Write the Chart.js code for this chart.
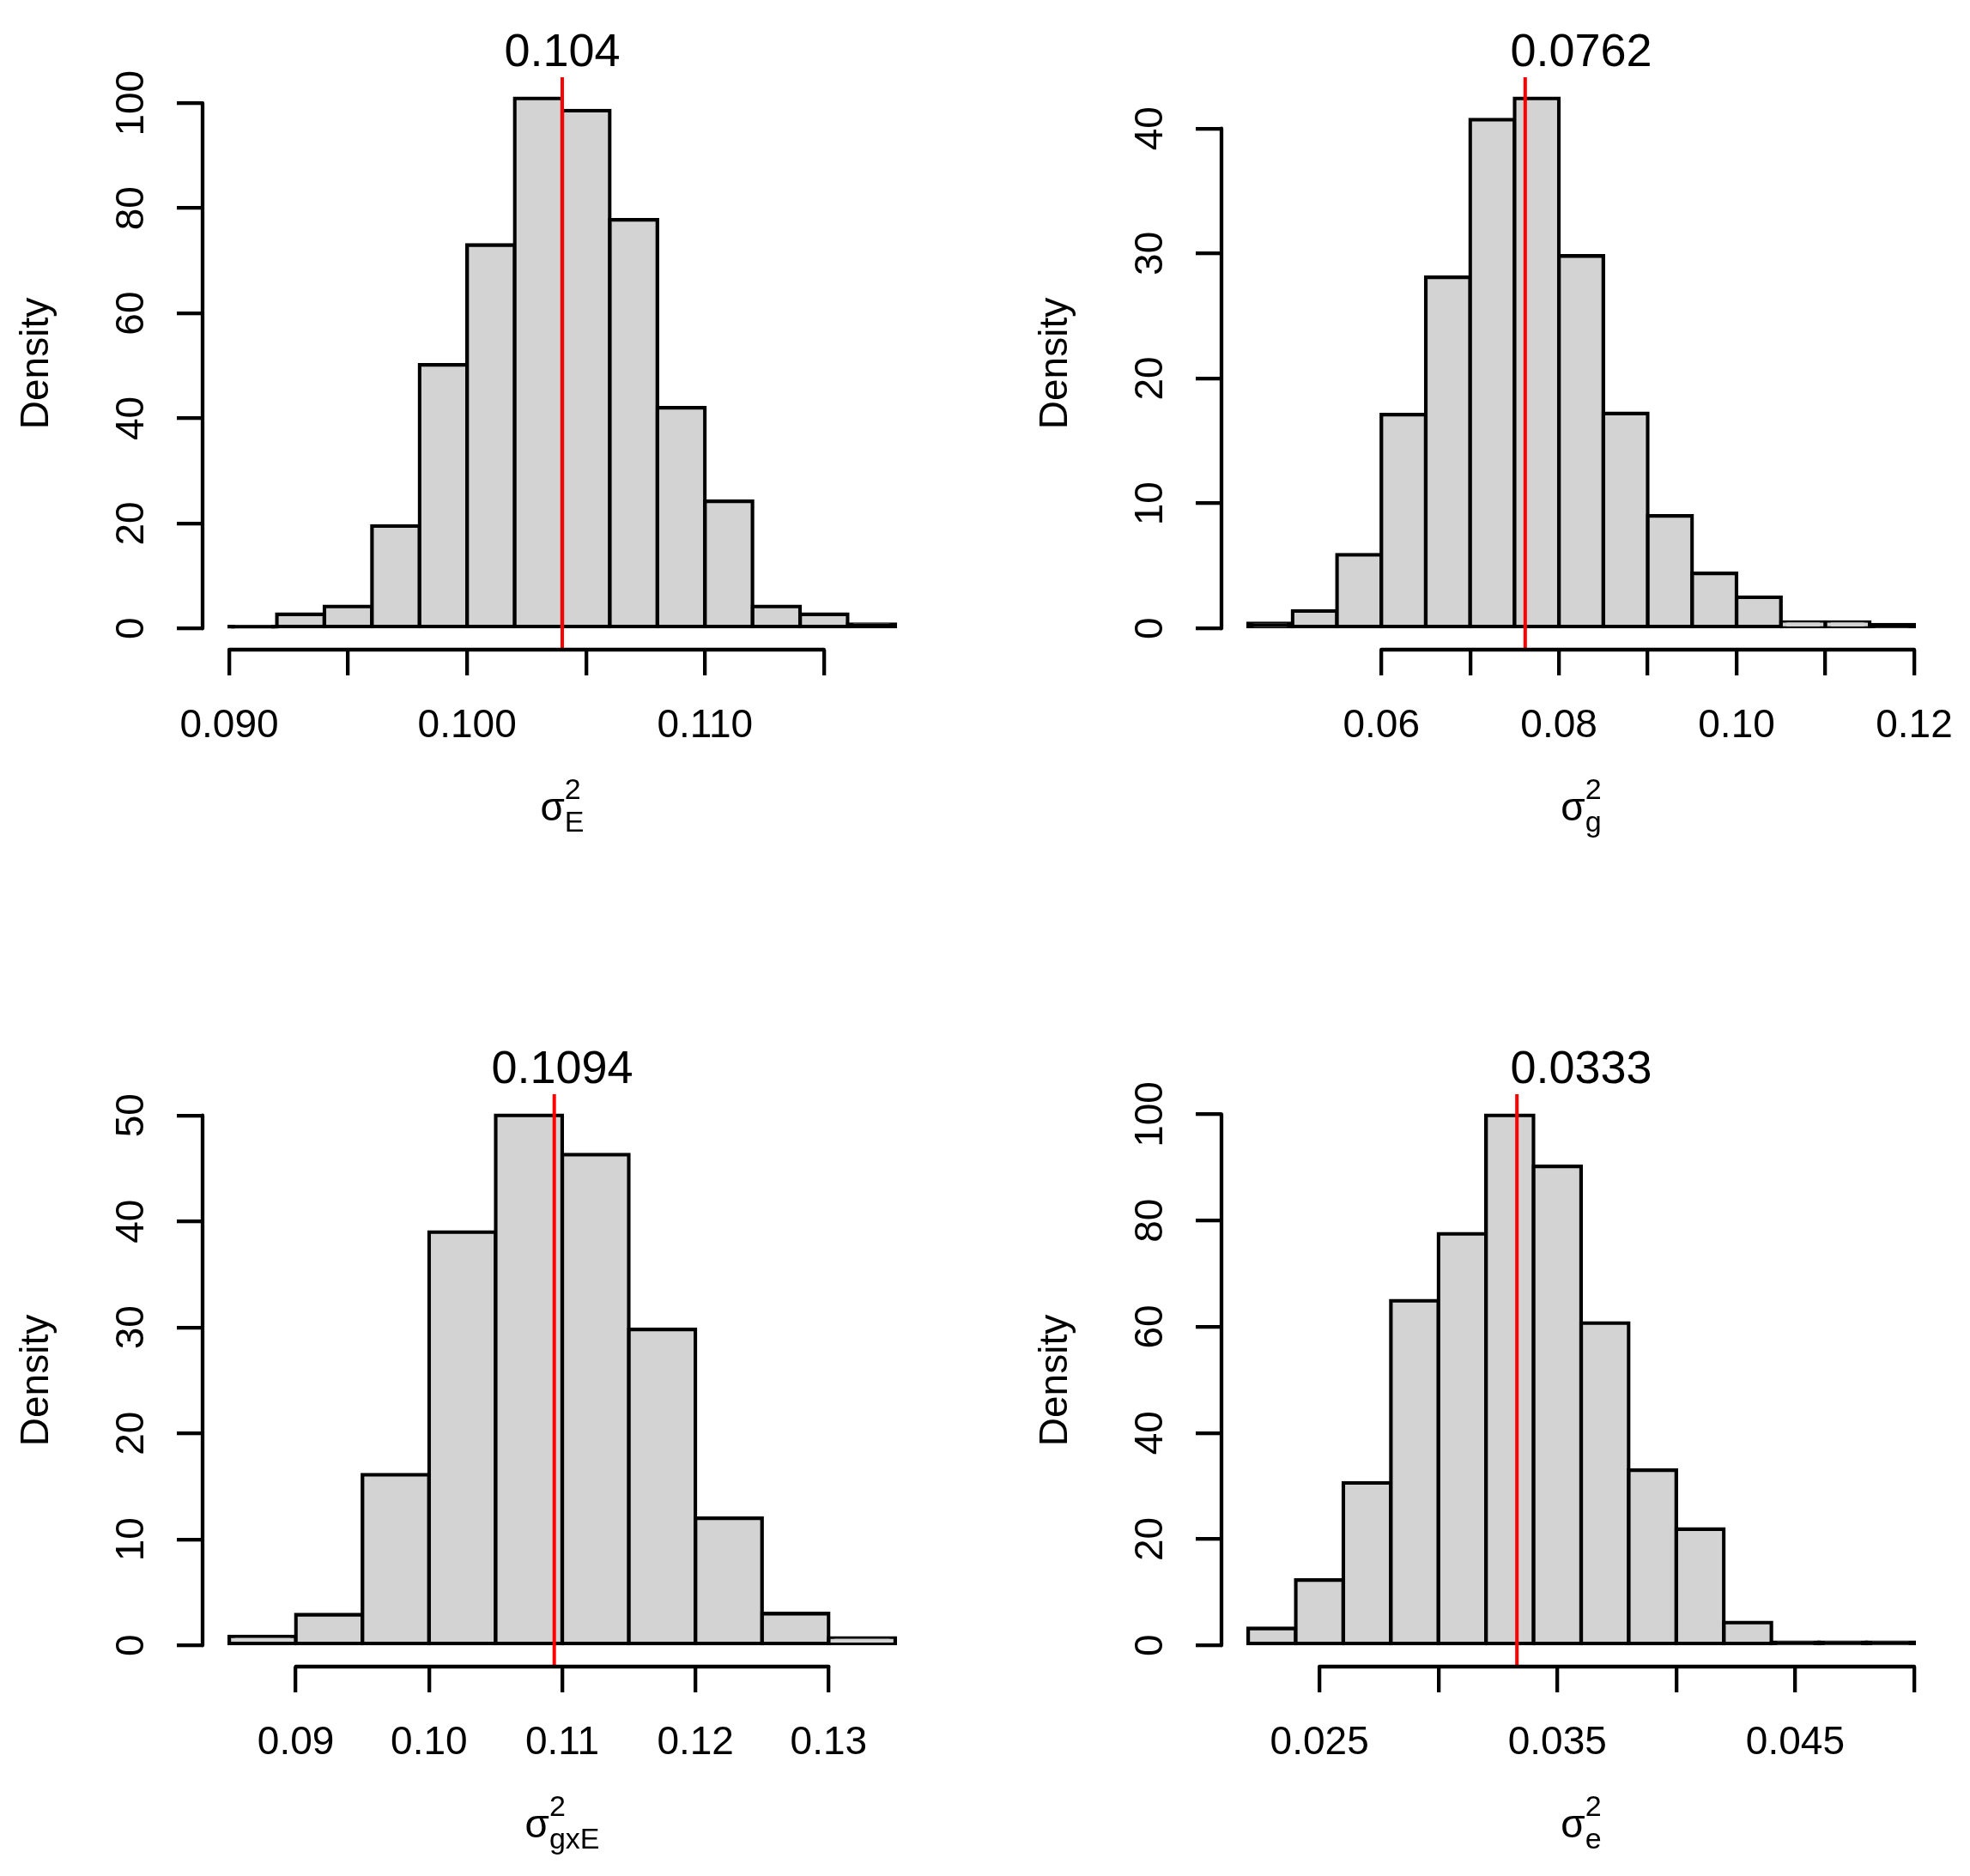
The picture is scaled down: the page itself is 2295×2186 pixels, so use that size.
<!DOCTYPE html>
<html>
<head>
<meta charset="utf-8">
<script src="https://cdn.jsdelivr.net/npm/chart.js@4.4.1/dist/chart.umd.min.js"></script>
<style>
  html, body { margin: 0; background: #fff; }
  #wrap { position: relative; width: 2295px; height: 2186px; background: #fff; overflow: hidden; }
  canvas { position: absolute; }
</style>
</head>
<body>
<div id="wrap">
  <canvas id="cE" width="1108" height="1000" style="left:0px;top:0px"></canvas>
  <canvas id="cG" width="1108" height="1000" style="left:1187px;top:0px"></canvas>
  <canvas id="cGxE" width="1108" height="1000" style="left:0px;top:1185px"></canvas>
  <canvas id="cRes" width="1108" height="1000" style="left:1187px;top:1185px"></canvas>
</div>
<script>
// Panel 1: sigma^2_E
const breaksE = [0.090, 0.092, 0.094, 0.096, 0.098, 0.100, 0.102, 0.104, 0.106, 0.108, 0.110, 0.112, 0.114, 0.116, 0.118];
const densE = [0.3, 2.7, 4.2, 19.5, 50.2, 73.0, 100.9, 98.6, 77.8, 42.0, 24.2, 4.2, 2.7, 0.8];
const xTicksE = [0.090, 0.095, 0.100, 0.105, 0.110, 0.115];
const xLabelsE = ['0.090', '', '0.100', '', '0.110', ''];
const yTicksE = [0, 20, 40, 60, 80, 100];
const meanE = 0.104;

// Panel 2: sigma^2_g
const breaksG = [0.045, 0.050, 0.055, 0.060, 0.065, 0.070, 0.075, 0.080, 0.085, 0.090, 0.095, 0.100, 0.105, 0.110, 0.115, 0.120];
const densG = [0.4, 1.4, 5.9, 17.1, 28.1, 40.7, 42.4, 29.8, 17.2, 9.0, 4.4, 2.5, 0.5, 0.5, 0.3];
const xTicksG = [0.06, 0.07, 0.08, 0.09, 0.10, 0.11, 0.12];
const xLabelsG = ['0.06', '', '0.08', '', '0.10', '', '0.12'];
const yTicksG = [0, 10, 20, 30, 40];
const meanG = 0.0762;

// Panel 3: sigma^2_gxE
const breaksGxE = [0.085, 0.090, 0.095, 0.100, 0.105, 0.110, 0.115, 0.120, 0.125, 0.130, 0.135];
const densGxE = [0.85, 2.9, 16.1, 39.0, 50.0, 46.3, 29.8, 12.0, 3.0, 0.7];
const xTicksGxE = [0.09, 0.10, 0.11, 0.12, 0.13];
const xLabelsGxE = ['0.09', '0.10', '0.11', '0.12', '0.13'];
const yTicksGxE = [0, 10, 20, 30, 40, 50];
const meanGxE = 0.1094;

// Panel 4: sigma^2_e
const breaksRes = [0.022, 0.024, 0.026, 0.028, 0.030, 0.032, 0.034, 0.036, 0.038, 0.040, 0.042, 0.044, 0.046, 0.048, 0.050];
const densRes = [3.2, 12.3, 30.6, 64.9, 77.5, 99.8, 90.2, 60.7, 33.0, 21.9, 4.3, 0.6, 0.6, 0.6];
const xTicksRes = [0.025, 0.030, 0.035, 0.040, 0.045, 0.050];
const xLabelsRes = ['0.025', '', '0.035', '', '0.045', ''];
const yTicksRes = [0, 20, 40, 60, 80, 100];
const meanRes = 0.0333;

const FONT = "'Liberation Sans', Arial, Helvetica, sans-serif";
const LW = 4.3;

// ejes estilo R, etiquetas rotadas y etiqueta sigma con indices
const rAxis = {
  id: 'rAxis',
  afterDraw(chart, args, opts) {
    const { ctx, chartArea } = chart;
    const x = chart.scales.x, y = chart.scales.y;
    ctx.save();
    ctx.strokeStyle = '#000';
    ctx.lineWidth = LW;
    ctx.lineCap = 'round';

    // lineas de eje entre el primer y ultimo tick
    ctx.beginPath();
    ctx.moveTo(x.getPixelForValue(opts.xTicks[0]), chartArea.bottom);
    ctx.lineTo(x.getPixelForValue(opts.xTicks[opts.xTicks.length - 1]), chartArea.bottom);
    ctx.moveTo(chartArea.left, y.getPixelForValue(opts.yTicks[0]));
    ctx.lineTo(chartArea.left, y.getPixelForValue(opts.yTicks[opts.yTicks.length - 1]));
    ctx.stroke();

    // etiquetas del eje y, paralelas al eje
    ctx.fillStyle = '#000';
    ctx.font = '46px ' + FONT;
    ctx.textAlign = 'center';
    ctx.textBaseline = 'alphabetic';
    opts.yTicks.forEach(v => {
      ctx.save();
      ctx.translate(chartArea.left - 69, y.getPixelForValue(v));
      ctx.rotate(-Math.PI / 2);
      ctx.fillText(String(v), 0, 0);
      ctx.restore();
    });

    // etiqueta del eje x: sigma con superindice y subindice
    ctx.textAlign = 'left';
    ctx.font = '46px ' + FONT;
    const wb = ctx.measureText('σ').width;
    ctx.font = '34px ' + FONT;
    const ws = Math.max(ctx.measureText(opts.sup).width, ctx.measureText(opts.sub).width);
    const cx = (chartArea.left + chartArea.right) / 2;
    const x0 = cx - (wb + ws) / 2;
    const by = chartArea.bottom + 199;
    ctx.font = '46px ' + FONT;
    ctx.fillText('σ', x0, by);
    ctx.font = '34px ' + FONT;
    ctx.fillText(opts.sup, x0 + wb, by - 25);
    ctx.fillText(opts.sub, x0 + wb, by + 13);
    ctx.restore();
  }
};

function makeHist(id, breaks, dens, xTicks, xLabels, yTicks, mean, sub) {
  const canvas = document.getElementById(id);
  if (!canvas) return;

  const centers = dens.map((d, i) => (breaks[i] + breaks[i + 1]) / 2);
  const xr = breaks[breaks.length - 1] - breaks[0];
  const xMin = breaks[0] - 0.04 * xr;
  const xMax = breaks[breaks.length - 1] + 0.04 * xr;
  const yTop = Math.max(...dens);
  const yMin = -0.04 * yTop;
  const yMax = 1.04 * yTop;

  const gridOpts = {
    drawOnChartArea: false,
    drawTicks: true,
    tickLength: 30,
    tickWidth: LW,
    lineWidth: LW,
    color: '#000',
    tickColor: '#000',
    offset: false
  };

  new Chart(canvas, {
    type: 'bar',
    data: {
      datasets: [
        {
          type: 'line',
          data: [{ x: mean, y: yMin }, { x: mean, y: yMax }],
          borderColor: '#FF0000',
          borderWidth: 4,
          pointRadius: 0,
          fill: false,
          order: 1
        },
        {
          type: 'bar',
          data: centers.map((c, i) => ({ x: c, y: dens[i] })),
          // barras muy bajas: el borde las cubre del todo, como en R
          backgroundColor: c => {
            const ys = c.chart.scales.y;
            if (!ys || c.raw === undefined) return '#D3D3D3';
            const h = ys.getPixelForValue(0) - ys.getPixelForValue(c.raw.y);
            return h < 6 ? '#000' : '#D3D3D3';
          },
          borderColor: '#000',
          borderSkipped: false,
          borderWidth: LW,
          inflateAmount: LW / 2,
          barPercentage: 1,
          categoryPercentage: 1,
          order: 2
        }
      ]
    },
    options: {
      responsive: false,
      animation: false,
      devicePixelRatio: 1,
      layout: { padding: { left: 0, right: 34, top: 0, bottom: 0 } },
      plugins: {
        legend: { display: false },
        tooltip: { enabled: false },
        title: {
          display: true,
          text: String(mean),
          fullSize: false,
          color: '#000',
          font: { family: FONT, size: 54, weight: 'normal', lineHeight: 1 },
          padding: { top: 35, bottom: 1 }
        },
        rAxis: { xTicks: xTicks, yTicks: yTicks, sup: '2', sub: sub }
      },
      scales: {
        x: {
          type: 'linear',
          min: xMin,
          max: xMax,
          offset: false,
          afterBuildTicks: s => { s.ticks = xTicks.map(v => ({ value: v })); },
          afterFit: s => { s.height = 243; s.paddingLeft = 0; s.paddingRight = 0; },
          grid: gridOpts,
          border: { display: false },
          ticks: {
            autoSkip: false,
            maxRotation: 0,
            minRotation: 0,
            padding: 32,
            color: '#000',
            font: { family: FONT, size: 46 },
            callback: (v, i) => xLabels[i]
          }
        },
        y: {
          type: 'linear',
          min: yMin,
          max: yMax,
          afterBuildTicks: s => { s.ticks = yTicks.map(v => ({ value: v })); },
          afterFit: s => { s.width = 236; s.paddingTop = 0; s.paddingBottom = 0; },
          grid: gridOpts,
          border: { display: false },
          ticks: { display: false },
          title: {
            display: true,
            text: 'Density',
            color: '#000',
            font: { family: FONT, size: 46, lineHeight: 1.2 },
            padding: { top: 16, bottom: 0 }
          }
        }
      }
    },
    plugins: [rAxis]
  });
}

makeHist('cE', breaksE, densE, xTicksE, xLabelsE, yTicksE, meanE, 'E');
makeHist('cG', breaksG, densG, xTicksG, xLabelsG, yTicksG, meanG, 'g');
makeHist('cGxE', breaksGxE, densGxE, xTicksGxE, xLabelsGxE, yTicksGxE, meanGxE, 'gxE');
makeHist('cRes', breaksRes, densRes, xTicksRes, xLabelsRes, yTicksRes, meanRes, 'e');
</script>
</body>
</html>
